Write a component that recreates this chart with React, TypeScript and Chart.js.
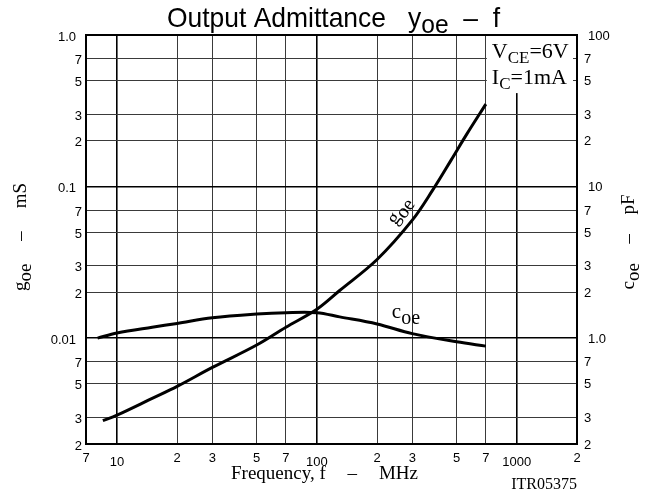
import { useEffect, useRef } from 'react';
import { Chart, registerables } from 'chart.js';

Chart.register(...registerables);

// ---- data ----
const goeFreq = [8.5, 10, 15, 20, 30, 50, 70, 100, 130, 200, 300, 380, 470, 560, 700];
const goeMilliSiemens = [0.00285, 0.0031, 0.004, 0.0048, 0.0064, 0.009, 0.0118, 0.0155, 0.0206, 0.033, 0.06, 0.095, 0.15, 0.22, 0.35];

const coeFreq = [8, 10, 15, 20, 30, 50, 70, 100, 130, 200, 300, 500, 700];
const coePicoFarad = [1.0, 1.08, 1.18, 1.25, 1.36, 1.44, 1.47, 1.47, 1.38, 1.24, 1.07, 0.945, 0.885];

const xTickValues = [7, 10, 20, 30, 50, 70, 100, 200, 300, 500, 700, 1000, 2000];
const xTickLabels = ['7', '10', '2', '3', '5', '7', '100', '2', '3', '5', '7', '1000', '2'];

const yTickValues = [0.002, 0.003, 0.005, 0.007, 0.01, 0.02, 0.03, 0.05, 0.07, 0.1, 0.2, 0.3, 0.5, 0.7, 1.0];
const yTickLabels = ['2', '3', '5', '7', '0.01', '2', '3', '5', '7', '0.1', '2', '3', '5', '7', '1.0'];

const y2TickValues = [0.2, 0.3, 0.5, 0.7, 1, 2, 3, 5, 7, 10, 20, 30, 50, 70, 100];
const y2TickLabels = ['2', '3', '5', '7', '1.0', '2', '3', '5', '7', '10', '2', '3', '5', '7', '100'];

const SANS = '"Liberation Sans", Arial, sans-serif';
const SERIF = '"Liberation Serif", "Times New Roman", serif';

type Part = { t: string; sub?: boolean };

const isDecade = (v: number) => Math.abs(Math.log10(v) - Math.round(Math.log10(v))) < 1e-6;

function richWidth(ctx: CanvasRenderingContext2D, parts: Part[], size: number, subSize: number, family: string) {
  let w = 0;
  for (const p of parts) {
    ctx.font = `${p.sub ? subSize : size}px ${family}`;
    w += ctx.measureText(p.t).width;
  }
  return w;
}

function drawRich(
  ctx: CanvasRenderingContext2D,
  parts: Part[],
  x: number,
  y: number,
  size: number,
  subSize: number,
  subDy: number,
  family: string,
  align: 'left' | 'center' | 'right'
) {
  ctx.save();
  ctx.textBaseline = 'alphabetic';
  ctx.textAlign = 'left';
  const w = richWidth(ctx, parts, size, subSize, family);
  let cx = align === 'center' ? x - w / 2 : align === 'right' ? x - w : x;
  for (const p of parts) {
    ctx.font = `${p.sub ? subSize : size}px ${family}`;
    ctx.fillText(p.t, cx, p.sub ? y + subDy : y);
    cx += ctx.measureText(p.t).width;
  }
  ctx.restore();
}

// draws groups of rich text spread evenly over a total width, centred on x
function drawSpread(
  ctx: CanvasRenderingContext2D,
  groups: Part[][],
  x: number,
  y: number,
  total: number,
  size: number,
  subDy: number,
  family: string
) {
  const widths = groups.map((g) => richWidth(ctx, g, size, size, family));
  const sum = widths.reduce((s, w) => s + w, 0);
  const gap = (total - sum) / (groups.length - 1);
  let cx = x - total / 2;
  groups.forEach((g, i) => {
    drawRich(ctx, g, cx, y, size, size, subDy, family, 'left');
    cx += widths[i] + gap;
  });
}

const decorations = {
  id: 'decorations',
  beforeDraw(chart: any) {
    const { ctx, width, height } = chart;
    ctx.save();
    ctx.fillStyle = '#fff';
    ctx.fillRect(0, 0, width, height);
    ctx.restore();
  },
  afterDraw(chart: any) {
    const { ctx, chartArea: a, scales } = chart;
    const xs = scales.x;
    const ys = scales.y;
    const y2s = scales.y2;
    ctx.save();
    ctx.fillStyle = '#000';

    // condition box (top right)
    const bx = xs.getPixelForValue(700) + 1;
    const bBottom = ys.getPixelForValue(0.42);
    ctx.fillStyle = '#fff';
    ctx.fillRect(bx, a.top + 1, a.right - 4 - bx, bBottom - a.top);
    ctx.fillStyle = '#000';
    drawRich(ctx, [{ t: 'V' }, { t: 'CE', sub: true }, { t: '=6V' }], bx + 5, a.top + 23, 22, 17, 5, SERIF, 'left');
    drawRich(ctx, [{ t: 'I' }, { t: 'C', sub: true }, { t: '=1mA' }], bx + 5, a.top + 49, 22, 17, 5, SERIF, 'left');

    // frame
    ctx.strokeStyle = '#000';
    ctx.lineWidth = 2;
    ctx.strokeRect(a.left, a.top, a.right - a.left, a.bottom - a.top);

    // tick labels
    ctx.font = `13px ${SANS}`;
    ctx.textBaseline = 'middle';
    ctx.textAlign = 'center';
    xTickValues.forEach((v, i) => {
      const px = xs.getPixelForValue(v);
      ctx.fillText(xTickLabels[i], px, a.bottom + (isDecade(v) ? 18 : 14));
    });
    ctx.textAlign = 'right';
    yTickValues.forEach((v, i) => {
      const py = ys.getPixelForValue(v);
      ctx.fillText(yTickLabels[i], a.left - (isDecade(v) ? 10 : 4), py + 2);
    });
    ctx.textAlign = 'left';
    y2TickValues.forEach((v, i) => {
      const py = y2s.getPixelForValue(v);
      ctx.fillText(y2TickLabels[i], a.right + (isDecade(v) ? 11 : 7), py + 1);
    });

    // main title
    ctx.save();
    const titleParts: Part[] = [{ t: 'Output Admittance   y' }, { t: 'oe', sub: true }, { t: '  \u2013  f' }];
    const tw = richWidth(ctx, titleParts, 28, 26, SANS);
    const sx = 333 / tw;
    ctx.translate((a.left + a.right) / 2 + 2, 27);
    ctx.scale(sx, 1);
    drawRich(ctx, titleParts, 0, 0, 28, 26, 6, SANS, 'center');
    ctx.restore();

    // x axis title
    drawSpread(ctx, [[{ t: 'Frequency, f' }], [{ t: '\u2013' }], [{ t: 'MHz' }]], 324.5, a.bottom + 35, 187, 19, 0, SERIF);
    // figure id
    drawRich(ctx, [{ t: 'ITR05375' }], a.right, a.bottom + 45, 16, 16, 0, SERIF, 'right');

    // left axis title
    ctx.save();
    ctx.translate(a.left - 60, 237);
    ctx.rotate(-Math.PI / 2);
    drawSpread(ctx, [[{ t: 'g' }, { t: 'oe', sub: true }], [{ t: '\u2013' }], [{ t: 'mS' }]], 0, 0, 108, 19, 5, SERIF);
    ctx.restore();

    // right axis title
    ctx.save();
    ctx.translate(a.right + 57, 242);
    ctx.rotate(-Math.PI / 2);
    drawSpread(ctx, [[{ t: 'c' }, { t: 'oe', sub: true }], [{ t: '\u2013' }], [{ t: 'pF' }]], 0, 0, 95, 19, 5, SERIF);
    ctx.restore();

    // curve labels
    ctx.save();
    ctx.translate(xs.getPixelForValue(260), ys.getPixelForValue(0.069));
    ctx.rotate((-55 * Math.PI) / 180);
    drawRich(ctx, [{ t: 'g' }, { t: 'oe', sub: true }], 0, 5, 20, 20, 4, SERIF, 'center');
    ctx.restore();

    drawRich(ctx, [{ t: 'c' }, { t: 'oe', sub: true }], xs.getPixelForValue(237), y2s.getPixelForValue(1.36), 21, 20, 6, SERIF, 'left');

    ctx.restore();
  },
};

function gridOpts() {
  return {
    display: true,
    drawTicks: false,
    tickLength: 0,
    color: (c: any) => (c.tick && isDecade(c.tick.value) ? '#000' : '#3a3a3a'),
    lineWidth: (c: any) => (c.tick && isDecade(c.tick.value) ? 1.6 : 1),
  };
}

export default function App() {
  const ref = useRef<HTMLCanvasElement | null>(null);

  useEffect(() => {
    document.body.style.margin = '0';
    const canvas = ref.current;
    if (!canvas) return;
    const chart = new Chart(canvas, {
      type: 'line',
      data: {
        datasets: [
          {
            label: 'goe',
            data: goeFreq.map((f, i) => ({ x: f, y: goeMilliSiemens[i] })),
            yAxisID: 'y',
            borderColor: '#000',
            borderWidth: 3,
            pointRadius: 0,
            tension: 0.35,
            fill: false,
          },
          {
            label: 'coe',
            data: coeFreq.map((f, i) => ({ x: f, y: coePicoFarad[i] })),
            yAxisID: 'y2',
            borderColor: '#000',
            borderWidth: 3,
            pointRadius: 0,
            tension: 0.35,
            fill: false,
          },
        ],
      },
      options: {
        responsive: false,
        animation: false,
        devicePixelRatio: 1,
        layout: { padding: { left: 86, right: 75, top: 35, bottom: 48 } },
        plugins: {
          legend: { display: false },
          title: { display: false },
          tooltip: { enabled: false },
        },
        scales: {
          x: {
            type: 'logarithmic',
            min: 7,
            max: 2000,
            afterBuildTicks: (axis: any) => {
              axis.ticks = xTickValues.map((v) => ({ value: v }));
            },
            ticks: { display: false },
            grid: gridOpts(),
            border: { display: false },
            title: { display: false },
          },
          y: {
            type: 'logarithmic',
            position: 'left',
            min: 0.002,
            max: 1.0,
            afterBuildTicks: (axis: any) => {
              axis.ticks = yTickValues.map((v) => ({ value: v }));
            },
            ticks: { display: false },
            grid: gridOpts(),
            border: { display: false },
            title: { display: false },
          },
          y2: {
            type: 'logarithmic',
            position: 'right',
            min: 0.2,
            max: 100,
            afterBuildTicks: (axis: any) => {
              axis.ticks = y2TickValues.map((v) => ({ value: v }));
            },
            ticks: { display: false },
            grid: { display: false, drawTicks: false, tickLength: 0 },
            border: { display: false },
            title: { display: false },
          },
        },
      } as any,
      plugins: [decorations],
    });
    return () => chart.destroy();
  }, []);

  return (
    <div style={{ width: 652, height: 492, position: 'absolute', left: 0, top: 0 }}>
      <canvas ref={ref} width={652} height={492} style={{ display: 'block' }} />
    </div>
  );
}
